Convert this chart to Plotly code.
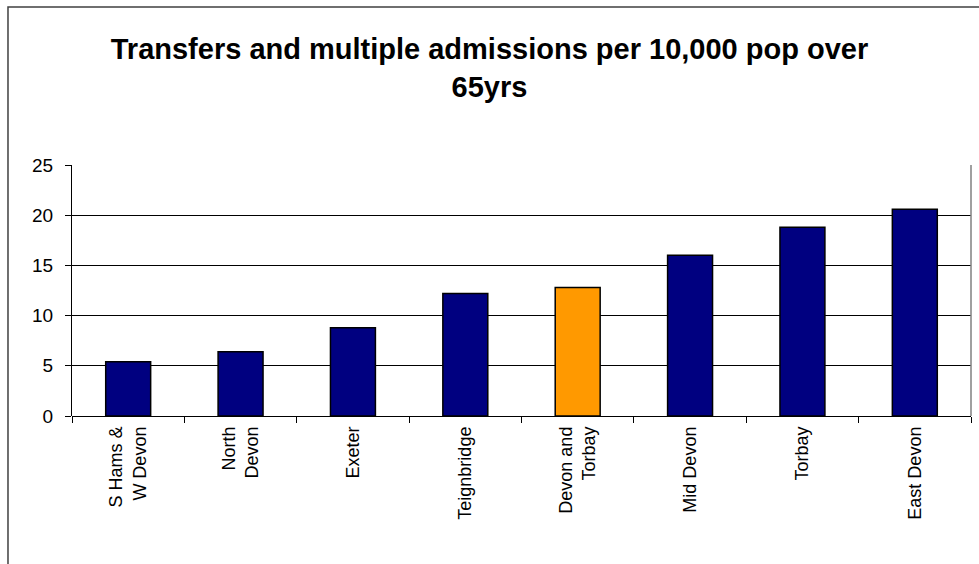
import plotly.graph_objects as go

categories = ["S Hams &<br>W Devon", "North<br>Devon", "Exeter", "Teignbridge",
              "Devon and<br>Torbay", "Mid Devon", "Torbay", "East Devon"]
values = [5.4, 6.4, 8.8, 12.2, 12.8, 16.0, 18.8, 20.6]
bar_colors = ["#000080", "#000080", "#000080", "#000080",
              "#FF9900", "#000080", "#000080", "#000080"]
y_ticks = [0, 5, 10, 15, 20, 25]

fig = go.Figure(go.Bar(
    x=categories,
    y=values,
    marker=dict(color=bar_colors, line=dict(color="black", width=1.5)),
    width=0.4,
))

font_family = "Liberation Sans, Arial, sans-serif"

fig.update_layout(
    width=979, height=564,
    margin=dict(l=72, r=8, t=165, b=148),
    paper_bgcolor="white", plot_bgcolor="white",
    showlegend=False,
    font=dict(family=font_family, size=19, color="black"),
    title=dict(
        text="<b>Transfers and multiple admissions per 10,000 pop over<br>65yrs</b>",
        x=0.5, xanchor="center", y=1 - 59 / 564, yanchor="top",
        font=dict(family=font_family, size=29, color="black"),
    ),
    xaxis=dict(
        tickangle=-90, tickson="boundaries", ticks="outside", ticklen=6,
        tickcolor="black", showline=False, showgrid=False,
        tickfont=dict(size=18), ticklabelstandoff=6,
    ),
    yaxis=dict(
        range=[0, 25], tickvals=y_ticks, ticks="outside", ticklen=6,
        tickcolor="black", showline=True, linecolor="black", linewidth=1,
        showgrid=True, gridcolor="black", gridwidth=1,
        zeroline=True, zerolinecolor="black", zerolinewidth=1,
        tickfont=dict(size=19), ticklabelstandoff=8,
    ),
    shapes=[
        # plot-area right border
        dict(type="line", xref="paper", yref="paper", x0=1, x1=1, y0=0, y1=1,
             line=dict(color="#808080", width=1.5)),
        # outer chart frame
        dict(type="rect", xref="paper", yref="paper",
             x0=-0.0712, x1=1.05, y0=-0.7, y1=1.6295,
             line=dict(color="#404040", width=1.5), layer="below"),
    ],
)

fig.write_html("out.html")
